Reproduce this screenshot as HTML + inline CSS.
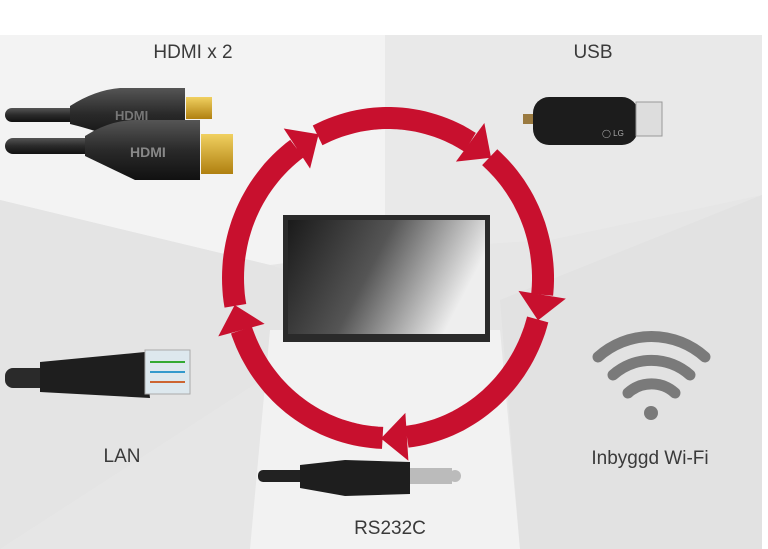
<!DOCTYPE html>
<html><head><meta charset="utf-8"><style>
html,body{margin:0;padding:0;background:#fff}
#c{position:relative;width:768px;height:549px;overflow:hidden;background:#fff}
.t{position:absolute;font-family:"Liberation Sans",sans-serif;font-size:19px;color:#3a3a3a;white-space:nowrap;transform:translateX(-50%)}
</style></head><body><div id="c">
<svg width="768" height="549" style="position:absolute;left:0;top:0">
<defs>
<linearGradient id="scr" x1="0" y1="0" x2="1" y2="0.3"><stop offset="0" stop-color="#1a1a1a"/><stop offset="0.5" stop-color="#555"/><stop offset="1" stop-color="#eee"/></linearGradient>
<linearGradient id="cab" x1="0" y1="0" x2="0" y2="1"><stop offset="0" stop-color="#555"/><stop offset="0.5" stop-color="#2a2a2a"/><stop offset="1" stop-color="#111"/></linearGradient>
<linearGradient id="gold" x1="0" y1="0" x2="0" y2="1"><stop offset="0" stop-color="#f0d060"/><stop offset="1" stop-color="#b08010"/></linearGradient>
</defs>
<rect x="0" y="35" width="762" height="514" fill="#e6e6e6"/>
<polygon points="0,35 385,35 385,250 270,265 0,200" fill="#f3f3f3"/>
<polygon points="385,35 762,35 762,195 550,240 385,250" fill="#e9e9e9"/>
<polygon points="0,200 270,265 385,300 0,549" fill="#e4e4e4"/>
<polygon points="270,330 500,330 520,549 250,549" fill="#f2f2f2"/>
<polygon points="500,300 762,195 762,549 520,549" fill="#e2e2e2"/>
<!-- HDMI cables -->
<rect x="5" y="108" width="80" height="14" rx="7" fill="url(#cab)"/>
<path d="M70,106 Q95,90 120,88 L185,88 L185,140 L120,140 Q95,130 70,124Z" fill="url(#cab)"/>
<rect x="186" y="97" width="26" height="22" fill="url(#gold)"/>
<text x="115" y="120" font-family="Liberation Sans" font-weight="bold" font-size="13" fill="#777">HDMI</text>
<rect x="5" y="138" width="90" height="16" rx="8" fill="url(#cab)"/>
<path d="M85,136 Q110,120 135,120 L200,120 L200,180 L135,180 Q110,168 85,156Z" fill="url(#cab)"/>
<rect x="201" y="134" width="32" height="40" fill="url(#gold)"/>
<text x="130" y="157" font-family="Liberation Sans" font-weight="bold" font-size="14" fill="#888">HDMI</text>
<!-- USB -->
<rect x="523" y="114" width="12" height="10" fill="#9a7a40"/>
<rect x="533" y="97" width="105" height="48" rx="16" fill="#1c1c1c"/>
<rect x="636" y="102" width="26" height="34" fill="#ddd" stroke="#999"/>
<text x="602" y="136" font-family="Liberation Sans" font-size="8" fill="#aaa">◯ LG</text>
<!-- TV -->
<rect x="283" y="215" width="207" height="127" fill="#2a2a2a"/>
<rect x="288" y="220" width="197" height="114" fill="url(#scr)"/>
<!-- LAN -->
<rect x="5" y="368" width="50" height="20" rx="8" fill="#2a2a2a"/>
<path d="M40,362 L145,352 L150,398 L40,392Z" fill="#1e1e1e"/>
<rect x="145" y="350" width="45" height="44" fill="#dde8ee" stroke="#aaa"/>
<line x1="150" y1="362" x2="185" y2="362" stroke="#3a3" stroke-width="2"/>
<line x1="150" y1="372" x2="185" y2="372" stroke="#39c" stroke-width="2"/>
<line x1="150" y1="382" x2="185" y2="382" stroke="#c63" stroke-width="2"/>
<!-- Jack -->
<rect x="258" y="470" width="50" height="12" rx="5" fill="#222"/>
<path d="M300,465 L345,460 L410,462 L410,494 L345,496 L300,488Z" fill="#1e1e1e"/>
<rect x="410" y="468" width="42" height="16" fill="#bbb"/>
<circle cx="455" cy="476" r="6" fill="#bbb"/>
<!-- WiFi -->
<g fill="none" stroke="#7a7a7a" stroke-width="11" stroke-linecap="round">
<path d="M598,357 A80,80 0 0 1 705,357"/>
<path d="M613,375 A58,58 0 0 1 690,375"/>
<path d="M628,393 A35,35 0 0 1 675,393"/>
</g>
<circle cx="651" cy="413" r="7" fill="#7a7a7a"/>
<g id="arr"></g>
</svg>
<div class="t" style="left:193px;top:42px">HDMI x 2</div>
<div class="t" style="left:593px;top:42px">USB</div>
<div class="t" style="left:122px;top:446px">LAN</div>
<div class="t" style="left:650px;top:448px">Inbyggd Wi-Fi</div>
<div class="t" style="left:390px;top:518px">RS232C</div>
</div>
<script>
var cx=388,cy=278,rx=155,ry=160,w=22,hw=24,hl=26,g=document.getElementById('arr');
var segs=[[-117,-53],[-49,11],[15,88],[92,166],[170,239]];
function P(a){a=a*Math.PI/180;return[cx+rx*Math.cos(a),cy+ry*Math.sin(a)];}
var ns='http://www.w3.org/2000/svg',h='';
segs.forEach(function(s){
 var e=s[1]-5,d='';
 for(var a=s[0];a<=e;a+=2){var p=P(a);d+=(d?'L':'M')+p[0].toFixed(1)+','+p[1].toFixed(1);}
 var p=P(e);d+='L'+p[0]+','+p[1];
 h+='<path d="'+d+'" fill="none" stroke="#c8102e" stroke-width="'+w+'"/>';
 var q=P(e),r=P(s[1]+2),tx=r[0]-q[0],ty=r[1]-q[1],L=Math.hypot(tx,ty);tx/=L;ty/=L;
 var nx=-ty,ny=tx,tip=[q[0]+tx*hl,q[1]+ty*hl];
 h+='<polygon fill="#c8102e" points="'+(q[0]+nx*hw)+','+(q[1]+ny*hw)+' '+(q[0]-nx*hw)+','+(q[1]-ny*hw)+' '+tip[0]+','+tip[1]+'"/>';
});
g.innerHTML=h;
</script>
</body></html>
